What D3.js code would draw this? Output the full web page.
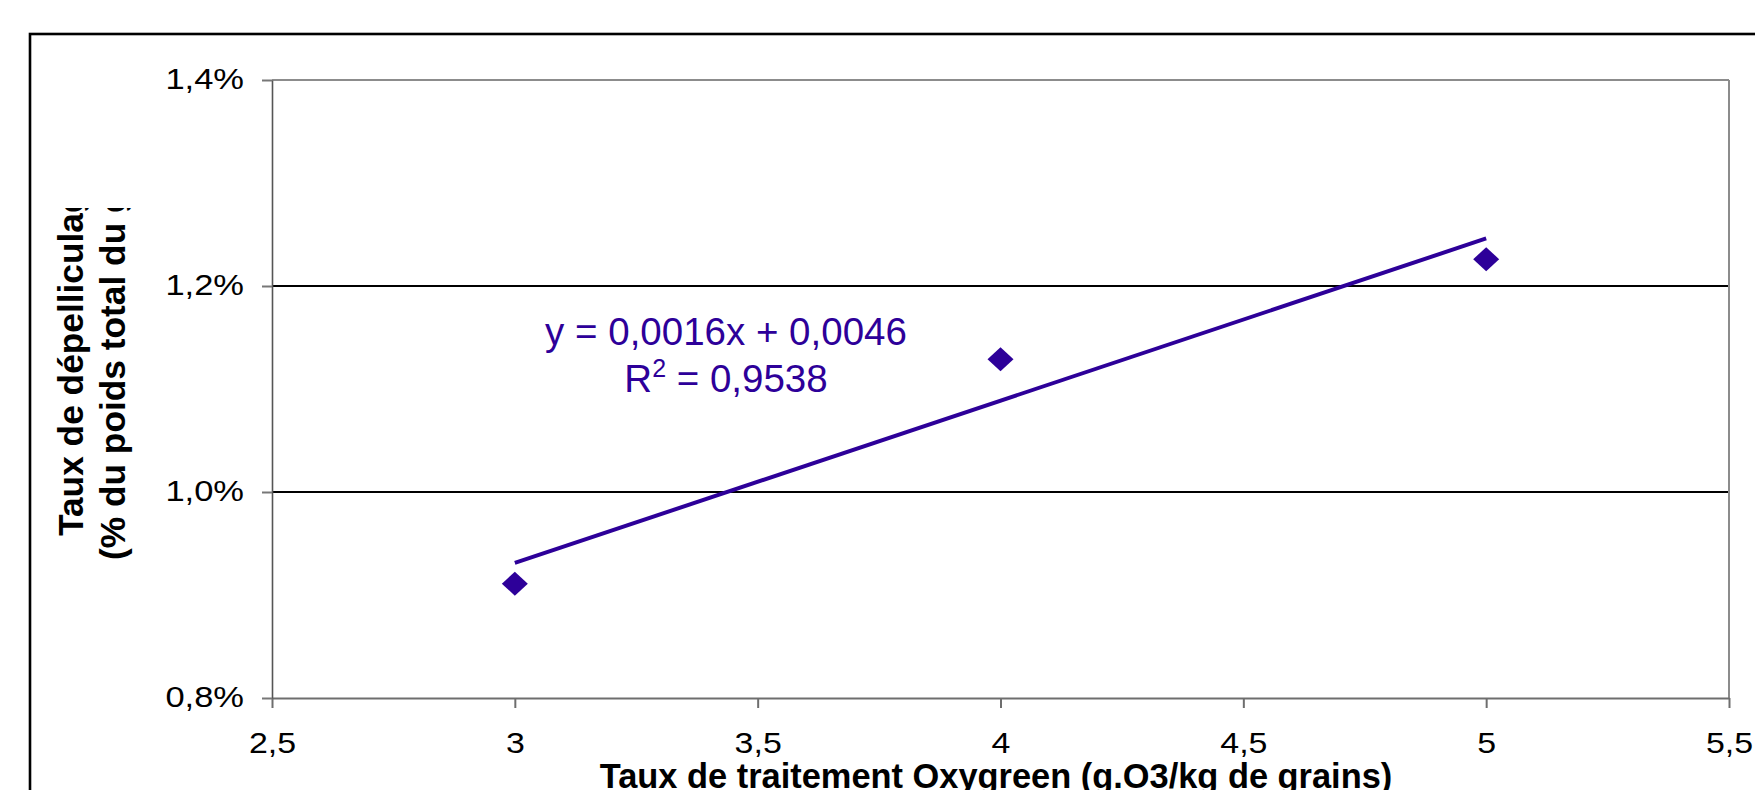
<!DOCTYPE html>
<html>
<head>
<meta charset="utf-8">
<script src="https://cdn.jsdelivr.net/npm/d3@7"></script>
<style>
  html, body { margin: 0; padding: 0; background: #fff; }
  svg { display: block; }
  text { font-family: "Liberation Sans", Arial, sans-serif; }
</style>
</head>
<body>
<div id="chart"></div>
<script>
// ---- data ----
const xValues = [3, 4, 5];
const yValues = [0.00911, 0.01129, 0.01226];
const xTicks = [2.5, 3, 3.5, 4, 4.5, 5, 5.5];
const xTickLabels = ["2,5", "3", "3,5", "4", "4,5", "5", "5,5"];
const yTicks = [0.008, 0.010, 0.012, 0.014];
const yTickLabels = ["0,8%", "1,0%", "1,2%", "1,4%"];
const xTitle = "Taux de traitement Oxygreen (g.O3/kg de grains)";
const yTitleLines = ["Taux de dépelliculage", "(% du poids total du grain)"];
const equationLines = ["y = 0,0016x + 0,0046", "R", "2", " = 0,9538"];

// ---- layout ----
const W = 1755, H = 790;
const plot = { left: 272, right: 1729, top: 80, bottom: 698 };
const markColor = "#2D0099";
const stretch = 1.15;

const svg = d3.select("#chart").append("svg")
  .attr("width", W).attr("height", H);

svg.append("rect").attr("width", W).attr("height", H).attr("fill", "#fff");

// outer chart frame (clipped by the window at right and bottom)
svg.append("rect")
  .attr("x", 30).attr("y", 34)
  .attr("width", W + 50).attr("height", H + 50)
  .attr("fill", "none").attr("stroke", "#000").attr("stroke-width", 2.6);

const x = d3.scaleLinear().domain([2.5, 5.5]).range([plot.left, plot.right]);
const y = d3.scaleLinear().domain([0.008, 0.014]).range([plot.bottom, plot.top]);

// gridlines (inner)
svg.append("g").selectAll("line")
  .data(yTicks.filter(t => t > 0.008 && t < 0.014))
  .join("line")
  .attr("x1", plot.left).attr("x2", plot.right)
  .attr("y1", d => y(d)).attr("y2", d => y(d))
  .attr("stroke", "#000").attr("stroke-width", 2);

// plot border top & right (gray)
svg.append("line")
  .attr("x1", plot.left).attr("x2", plot.right)
  .attr("y1", y(0.014)).attr("y2", y(0.014))
  .attr("stroke", "#8c8c8c").attr("stroke-width", 2);
svg.append("line")
  .attr("x1", plot.right).attr("x2", plot.right)
  .attr("y1", plot.top).attr("y2", plot.bottom)
  .attr("stroke", "#8c8c8c").attr("stroke-width", 2);

// x axis
const xAxis = svg.append("g")
  .attr("transform", `translate(0,${plot.bottom})`)
  .call(d3.axisBottom(x).tickValues(xTicks).tickSize(10).tickSizeOuter(0)
    .tickFormat((d, i) => xTickLabels[i]));
xAxis.select(".domain").attr("stroke", "#6e6e6e").attr("stroke-width", 2);
xAxis.selectAll(".tick line").attr("stroke", "#6e6e6e").attr("stroke-width", 2);
xAxis.selectAll(".tick text")
  .attr("fill", "#000").attr("font-size", 29.5).attr("dy", null)
  .attr("y", 55).attr("x", 0)
  .attr("transform", `scale(${stretch},1)`);

// y axis
const yAxis = svg.append("g")
  .attr("transform", `translate(${plot.left},0)`)
  .call(d3.axisLeft(y).tickValues(yTicks).tickSize(10).tickSizeOuter(0)
    .tickFormat((d, i) => yTickLabels[i]));
yAxis.select(".domain").attr("stroke", "#555").attr("stroke-width", 1.6);
yAxis.selectAll(".tick line").attr("stroke", "#777").attr("stroke-width", 2);
yAxis.selectAll(".tick text")
  .attr("fill", "#000").attr("font-size", 30).attr("dy", null)
  .attr("x", -28 / stretch).attr("y", 8)
  .attr("transform", `scale(${stretch},1)`);

// trendline from least squares fit
const mx = d3.mean(xValues), my = d3.mean(yValues);
const slope = d3.sum(xValues.map((v, i) => (v - mx) * (yValues[i] - my))) /
              d3.sum(xValues.map(v => (v - mx) * (v - mx)));
const intercept = my - slope * mx;
const xr = d3.extent(xValues);
svg.append("line")
  .attr("x1", x(xr[0])).attr("y1", y(intercept + slope * xr[0]))
  .attr("x2", x(xr[1])).attr("y2", y(intercept + slope * xr[1]))
  .attr("stroke", markColor).attr("stroke-width", 4);

// diamond markers
const hw = 13, hh = 12;
svg.append("g").selectAll("path")
  .data(xValues.map((v, i) => [v, yValues[i]]))
  .join("path")
  .attr("d", d => {
    const cx = x(d[0]), cy = y(d[1]);
    return `M${cx},${cy - hh}L${cx + hw},${cy}L${cx},${cy + hh}L${cx - hw},${cy}Z`;
  })
  .attr("fill", markColor);

// equation label
const eq = svg.append("g").attr("fill", markColor).attr("font-size", 38.5);
eq.append("text").attr("x", 726).attr("y", 345).attr("text-anchor", "middle")
  .text(equationLines[0]);
const t2 = eq.append("text").attr("x", 726).attr("y", 392).attr("text-anchor", "middle");
t2.append("tspan").text(equationLines[1]);
t2.append("tspan").attr("font-size", 25).attr("dy", -15).text(equationLines[2]);
t2.append("tspan").attr("dy", 15).text(equationLines[3]);

// x title
svg.append("text")
  .attr("x", 996).attr("y", 788)
  .attr("text-anchor", "middle")
  .attr("font-size", 34.4).attr("font-weight", "bold")
  .text(xTitle);

// y title (clipped at top like the reference)
svg.append("clipPath").attr("id", "yclip")
  .append("rect").attr("x", 0).attr("y", 208).attr("width", 200).attr("height", 500);
const yt = svg.append("g").attr("clip-path", "url(#yclip)");
const yStarts = [[83, 536], [125, 560]];
yTitleLines.forEach((s, i) => {
  yt.append("text")
    .attr("transform", `translate(${yStarts[i][0]},${yStarts[i][1]}) rotate(-90)`)
    .attr("font-size", 35.3).attr("font-weight", "bold")
    .text(s);
});
</script>
</body>
</html>
